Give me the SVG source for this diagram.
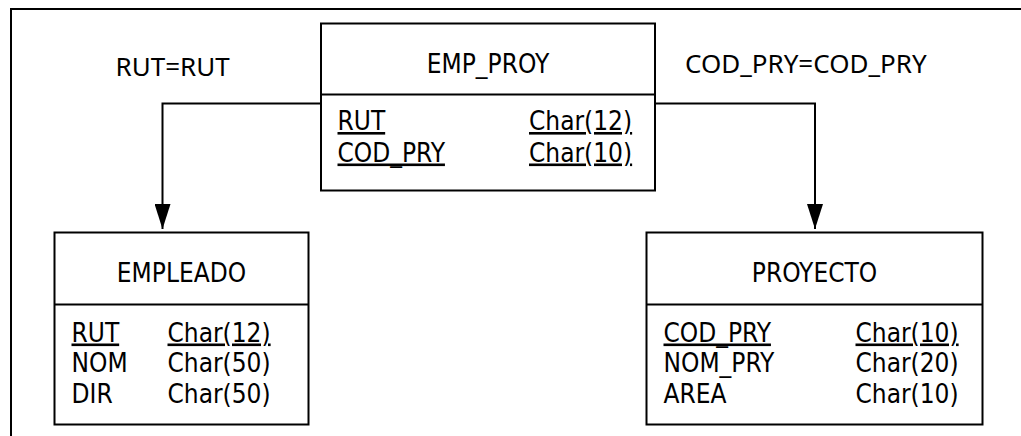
<svg xmlns="http://www.w3.org/2000/svg" width="1021" height="436" viewBox="0 0 1021 436">
<style>
.box{fill:#fff;stroke:#000;stroke-width:2}
.ln{fill:none;stroke:#000;stroke-width:2}
.t{font-family:"DejaVu Sans Condensed","DejaVu Sans",sans-serif;font-stretch:condensed;font-size:26px;fill:#000}
.c{text-anchor:middle}
.u{text-decoration:underline}
.lbl{font-family:"Noto Sans","Open Sans",sans-serif;font-size:26px;fill:#000}
</style>
<defs>
<marker id="arr" markerUnits="userSpaceOnUse" markerWidth="25" markerHeight="16" viewBox="0 0 25 16" refX="25" refY="8" orient="auto">
<path d="M0,0 L25,8 L0,16 Z" fill="#000"/>
</marker>
</defs>
<rect width="1021" height="436" fill="#fff"/>
<path class="ln" d="M11,436 V9 H1021"/>
<g id="connectors">
<path class="ln" d="M321,103.5 H162.5 V229" marker-end="url(#arr)"/>
<path class="ln" d="M655,103.5 H815 V229" marker-end="url(#arr)"/>
</g>
<g id="labels">
<text class="lbl" x="115.5" y="76">RUT=RUT</text>
<text class="lbl" x="685" y="73">COD_PRY=COD_PRY</text>
</g>
<g id="emp_proy">
<rect class="box" x="321" y="23.5" width="334" height="167"/>
<line class="ln" x1="321" y1="94.5" x2="655" y2="94.5"/>
<text class="t c" x="488" y="73">EMP_PROY</text>
<text class="t u" x="337.5" y="130">RUT</text>
<text class="t u" x="529" y="130">Char(12)</text>
<text class="t u" x="337.5" y="161.5">COD_PRY</text>
<text class="t u" x="529" y="161.5">Char(10)</text>
</g>
<g id="empleado">
<rect class="box" x="54.5" y="232.5" width="254" height="192"/>
<line class="ln" x1="54.5" y1="304.5" x2="308.5" y2="304.5"/>
<text class="t c" x="181.5" y="281.5">EMPLEADO</text>
<text class="t u" x="71.5" y="341.5">RUT</text>
<text class="t u" x="167.5" y="341.5">Char(12)</text>
<text class="t" x="71.5" y="371.5">NOM</text>
<text class="t" x="167.5" y="371.5">Char(50)</text>
<text class="t" x="71.5" y="403">DIR</text>
<text class="t" x="167.5" y="403">Char(50)</text>
</g>
<g id="proyecto">
<rect class="box" x="646.5" y="232.5" width="336" height="192"/>
<line class="ln" x1="646.5" y1="304.5" x2="982.5" y2="304.5"/>
<text class="t c" x="814.5" y="281.5">PROYECTO</text>
<text class="t u" x="663.5" y="341.5">COD_PRY</text>
<text class="t u" x="855.5" y="341.5">Char(10)</text>
<text class="t" x="663.5" y="371.5">NOM_PRY</text>
<text class="t" x="855.5" y="371.5">Char(20)</text>
<text class="t" x="663.5" y="403">AREA</text>
<text class="t" x="855.5" y="403">Char(10)</text>
</g>
</svg>
